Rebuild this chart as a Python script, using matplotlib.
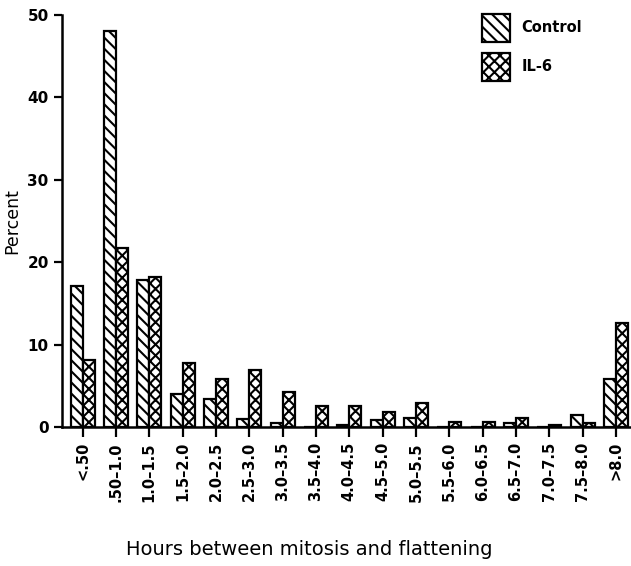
import matplotlib
matplotlib.use("Agg")
import matplotlib.pyplot as plt
import numpy as np

categories = ["<.50", ".50-1.0", "1.0-1.5", "1.5-2.0", "2.0-2.5", "2.5-3.0",
              "3.0-3.5", "3.5-4.0", "4.0-4.5", "4.5-5.0", "5.0-5.5", "5.5-6.0",
              "6.0-6.5", "6.5-7.0", "7.0-7.5", "7.5-8.0", ">8.0"]
control = [17.2, 48.0, 17.9, 4.1, 3.5, 1.0, 0.6, 0.0, 0.3, 0.9, 1.2, 0.0,
           0.0, 0.55, 0.0, 1.5, 5.9]
il6 = [8.2, 21.7, 18.2, 7.8, 5.9, 7.0, 4.3, 2.65, 2.65, 1.9, 3.0, 0.7,
       0.7, 1.1, 0.3, 0.6, 12.7]

plt.rcParams["hatch.linewidth"] = 1.5
plt.rcParams["font.family"] = "DejaVu Sans"

fig = plt.figure(figsize=(6.31, 5.66), dpi=100)
ax = fig.add_axes([0.098, 0.2447, 0.902, 0.729])

x = np.arange(len(categories))
w = 0.36
ax.bar(x - w / 2, control, width=w, facecolor="white", edgecolor="black",
       linewidth=1.6, hatch="\\\\\\", label="Control")
ax.bar(x + w / 2, il6, width=w, facecolor="white", edgecolor="black",
       linewidth=1.6, hatch="xxx", label="IL-6")

ax.set_xlim(-0.62, 16.45)
ax.set_ylim(0, 50)
ax.set_yticks([0, 10, 20, 30, 40, 50])
ax.set_xticks(x)
ax.set_xticklabels([c.replace("-", "\u2013") for c in categories],
                   rotation=90, fontsize=10.5, fontweight="bold")
ax.tick_params(axis="y", labelsize=11, width=1.6, length=6)
for lab in ax.get_yticklabels():
    lab.set_fontweight("bold")
ax.tick_params(axis="x", width=1.6, length=7)
for s in ["top", "right"]:
    ax.spines[s].set_visible(False)
for s in ["left", "bottom"]:
    ax.spines[s].set_linewidth(1.8)

ax.set_ylabel("Percent", fontsize=12.5, labelpad=4)
fig.text(0.49, 0.03, "Hours between mitosis and flattening", ha="center",
         va="center", fontsize=14)

leg = ax.legend(loc="upper left", bbox_to_anchor=(0.715, 1.035), frameon=False,
                handlelength=1.9, handleheight=2.6, labelspacing=0.75,
                handletextpad=0.8, prop={"weight": "bold", "size": 10.5})

fig.savefig("out.png", dpi=100)
